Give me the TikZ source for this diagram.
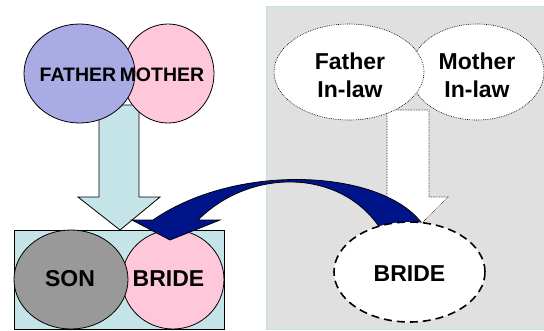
\documentclass[tikz,border=0pt]{standalone}
\usepackage{fontspec}
\setmainfont{Liberation Sans}
\usetikzlibrary{shapes.geometric}

\definecolor{parentblue}{RGB}{170,170,228}
\definecolor{rosepink}{RGB}{255,200,218}
\definecolor{songray}{RGB}{153,153,153}
\definecolor{paleteal}{RGB}{196,228,232}
\definecolor{panelgray}{RGB}{224,224,224}
\definecolor{paneledge}{RGB}{192,226,230}
\definecolor{navyarrow}{RGB}{0,20,137}

\tikzset{
  bubble/.style={ellipse, draw, line width=0.8pt, inner sep=0pt},
  bigtext/.style={font=\bfseries\fontsize{23}{28}\selectfont, align=center},
  smalltext/.style={font=\bfseries\fontsize{19.5}{24}\selectfont}
}

\begin{document}
\begin{tikzpicture}[x=1pt,y=-1pt]
    \useasboundingbox (0,0) rectangle (544,330);

    % grey panel on the right
    \fill[panelgray] (266,6) rectangle (544,329);
    \draw[paneledge, line width=1pt] (544,6) -- (266,6) -- (266,329) -- (544,329);

    % draw block arrow from parents to couple
    \draw[fill=paleteal, line width=0.8pt] (99,105) -- (99,197) -- (78,197) -- (120,230)
      -- (160,197) -- (139,197) -- (139,105) -- cycle;

    % draw parents
    \node[bubble, fill=rosepink, minimum width=92pt, minimum height=99pt] (mother) at (168,73.5) {};
    \node[bubble, fill=parentblue, minimum width=111pt, minimum height=99pt] (father) at (79.5,73.5) {};
    \node[smalltext] (fathertext) at (78,74.5) {FATHER};
    \node[smalltext] (mothertext) at (162,74.5) {MOTHER};

    % draw couple
    \draw[fill=paleteal, line width=0.8pt] (14,230) rectangle (224,329);
    \node[bubble, fill=rosepink, minimum width=102pt, minimum height=99pt] (bride) at (173,279.5) {};
    \node[bubble, fill=songray, minimum width=114pt, minimum height=99pt] (son) at (71,279.5) {};
    \node[bigtext] (sontext) at (70,278.5) {SON};
    \node[bigtext] (bridetext) at (168.5,278.5) {BRIDE};

    % draw in-laws
    \draw[fill=white, densely dotted, line width=0.6pt] (387,110) -- (387,197) -- (367,197) -- (408,237)
      -- (448,197) -- (429,197) -- (429,110) -- cycle;
    \node[bubble, fill=white, densely dotted, line width=0.6pt, minimum width=134pt, minimum height=96pt] (motherinlaw) at (477,72) {};
    \node[bubble, fill=white, densely dotted, line width=0.6pt, minimum width=150pt, minimum height=96pt] (fatherinlaw) at (349,72) {};
    \node[bigtext] (fatherinlawtext) at (350,75) {Father\\In-law};
    \node[bigtext] (motherinlawtext) at (477,75) {Mother\\In-law};

    % curved arrow, bride moves over
    \draw[fill=navyarrow, line width=0.8pt] (380,228) .. controls (340,168) and (250,168) .. (198,220)
      -- (220,220) -- (170,240) -- (132,220) -- (153,220)
      .. controls (240,160) and (390,170) .. (425,228) -- cycle;

    % bride before marriage
    \node[bubble, fill=white, dash pattern=on 8pt off 5pt, line width=1.6pt,
      minimum width=151pt, minimum height=100pt] (oldbride) at (409.5,272) {};
    \node[bigtext] (oldbridetext) at (409.5,273.5) {BRIDE};
  \end{tikzpicture}
\end{document}
